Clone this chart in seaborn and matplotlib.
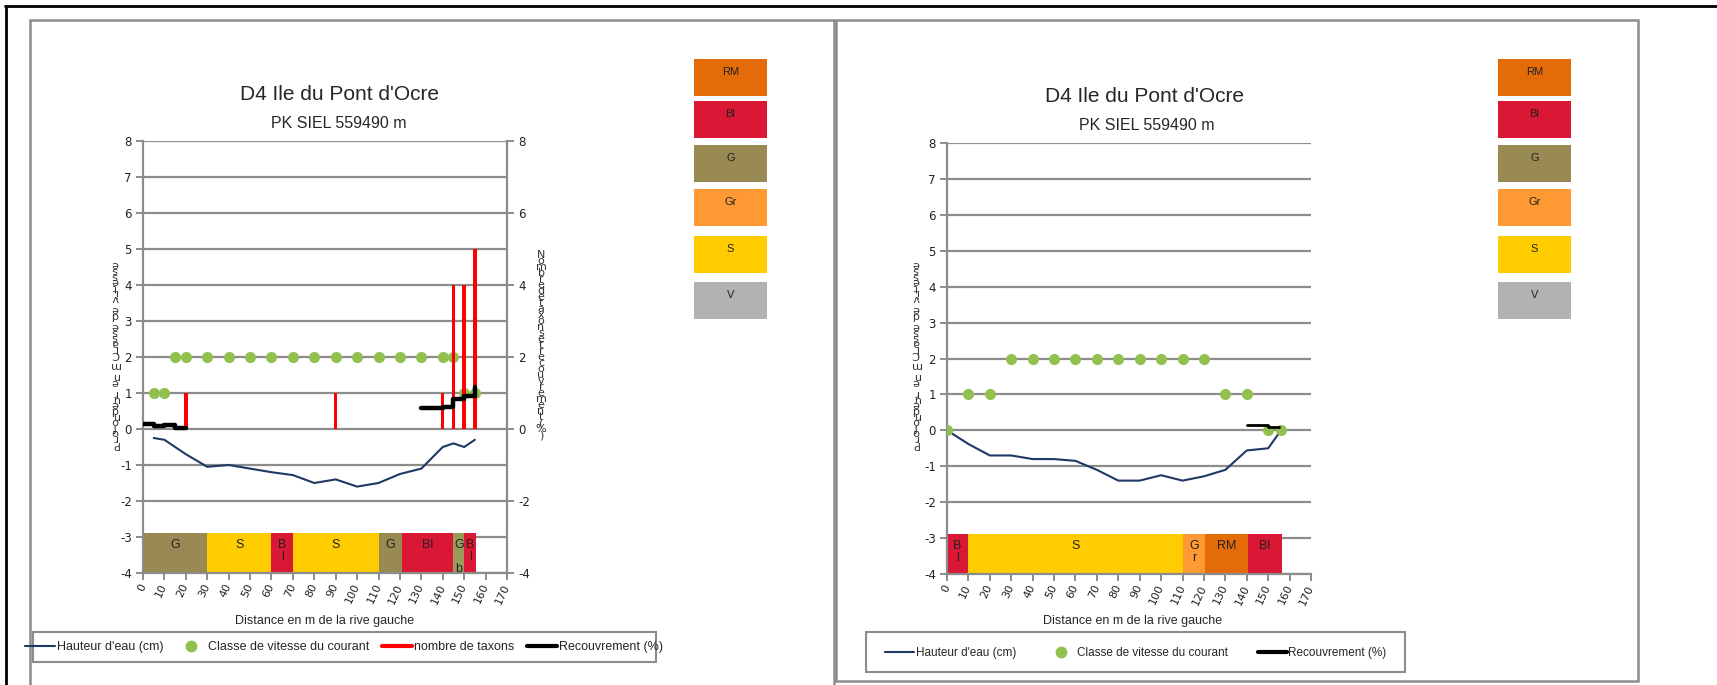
import numpy as np
import pandas as pd
import seaborn as sns
import matplotlib.pyplot as plt
from matplotlib.patches import Rectangle
from matplotlib.lines import Line2D

# --- données ---
titre = "D4 Ile du Pont d'Ocre"
sous_titre = "PK SIEL 559490 m"
xlabel = "Distance en m de la rive gauche"
ylabel_g = "Profondeur en m Classe de vitesse"
ylabel_d2 = "Nombre de taxons et recouvrement (%)"

# transect gauche
haut_x_g = [5, 10, 20, 30, 40, 50, 60, 70, 80, 90, 100, 110, 120, 130, 140, 145, 150, 155]
haut_y_g = [-0.25, -0.3, -0.7, -1.05, -1.0, -1.1, -1.2, -1.28, -1.5, -1.4, -1.6, -1.5, -1.25, -1.1, -0.5, -0.4, -0.5, -0.3]
vit_x_g = [5, 10, 15, 20, 30, 40, 50, 60, 70, 80, 90, 100, 110, 120, 130, 140, 145, 150, 155]
vit_y_g = [1, 1, 2, 2, 2, 2, 2, 2, 2, 2, 2, 2, 2, 2, 2, 2, 2, 1, 1]
taxons_x_g = [20, 90, 140, 145, 150, 155]
taxons_y_g = [1, 1, 1, 4, 4, 5]
recouv_x_g = [0, 5, 10, 15, 20, 130, 140, 145, 150, 155]
recouv_y_g = [0.15, 0.07, 0.1, 0.04, 0.04, 0.57, 0.6, 0.83, 0.93, 1.17]
recouv_seg_g = [1, 1, 1, 1, 1, 2, 2, 2, 2, 2]
subs_debut_g = [0, 30, 60, 70, 110, 121, 145, 150]
subs_fin_g = [30, 60, 70, 110, 121, 145, 150, 155.5]
subs_code_g = ['G', 'S', 'Bl', 'S', 'G', 'Bl', 'Gb', 'Bl']

# transect droit
haut_x_d = [0, 10, 20, 30, 40, 50, 60, 70, 80, 90, 100, 110, 120, 130, 140, 150, 156]
haut_y_d = [0, -0.38, -0.7, -0.7, -0.8, -0.8, -0.85, -1.1, -1.4, -1.4, -1.25, -1.4, -1.28, -1.1, -0.56, -0.5, 0]
vit_x_d = [0, 10, 20, 30, 40, 50, 60, 70, 80, 90, 100, 110, 120, 130, 140, 150, 156]
vit_y_d = [0, 1, 1, 2, 2, 2, 2, 2, 2, 2, 2, 2, 2, 1, 1, 0, 0]
recouv_x_d = [140, 150, 155]
recouv_y_d = [0.16, 0.09, 0.09]
subs_debut_d = [-0.5, 10, 110, 120.5, 140.5]
subs_fin_d = [10, 110, 120.5, 140.5, 156.3]
subs_code_d = ['Bl', 'S', 'Gr', 'RM', 'Bl']

legende_codes = ['RM', 'Bl', 'G', 'Gr', 'S', 'V']
couleurs = {'RM': '#E36C09', 'Bl': '#DA1734', 'G': '#998A53', 'Gr': '#FF9933',
            'S': '#FFCC00', 'V': '#B2B2B2', 'Gb': '#9C9A58'}

bleu = '#1F3864'
vert = '#92C04E'
gris = '#8C8C8C'
narrow = ['Liberation Sans Narrow', 'Liberation Sans', 'DejaVu Sans']

sns.set_theme(style='white')
plt.rcParams['font.family'] = ['DejaVu Sans']
plt.rcParams['axes.unicode_minus'] = False

W, H = 1717, 685
fig = plt.figure(figsize=(W / 100, H / 100), dpi=100)


def fx(px):
    return px / W


def fy(py):
    return 1 - py / H


def axes_px(x0, y0, x1, y1):
    return fig.add_axes([fx(x0), fy(y1), (x1 - x0) / W, (y1 - y0) / H])


def style_axes(ax):
    ax.set_xlim(0, 170)
    ax.set_ylim(-4, 8)
    ax.set_xticks(range(0, 171, 10))
    ax.set_yticks(range(-4, 9))
    ax.set_axisbelow(True)
    ax.grid(axis='y', color=gris, lw=1.6)
    ax.grid(axis='x', visible=False)
    for s in ['top', 'right']:
        ax.spines[s].set_visible(False)
    for s in ['left', 'bottom']:
        ax.spines[s].set_color(gris)
        ax.spines[s].set_linewidth(1.6)
    ax.tick_params(axis='both', direction='out', length=5, width=1.4, color=gris,
                   labelsize=8.5, labelcolor='#222222', pad=3,
                   left=True, bottom=True)
    for lab in ax.get_xticklabels():
        lab.set_rotation(65)
        lab.set_ha('right')
        lab.set_va('center')
        lab.set_rotation_mode('anchor')
        lab.set_fontsize(8)
    ax.set_xlabel('')
    ax.set_ylabel('')


def substrats(ax, debut, fin, codes):
    for d, f, c in zip(debut, fin, codes):
        ax.bar(d, 1.1, width=f - d, bottom=-4, align='edge',
               color=couleurs[c], lw=0, zorder=1)
        lab = c if f - d > 12 else '\n'.join(c if c != 'Gb' else 'G b')
        ax.text((d + f) / 2, -3.05, lab, ha='center', va='top', fontsize=9,
                family=narrow, linespacing=1.0, color='#222222', zorder=6)


def legende_substrats(x0):
    tops = [59, 101, 145, 189, 236, 282]
    for code, t in zip(legende_codes, tops):
        fig.add_artist(Rectangle((fx(x0), fy(t + 37)), 73 / W, 37 / H,
                                 transform=fig.transFigure, color=couleurs[code], lw=0))
        fig.text(fx(x0 + 36.5), fy(t + 13), code, ha='center', va='center',
                 fontsize=8, family=narrow, color='#222222')


def cadre(x0, y0, x1, y1, lw=1.8, color='#8C8C8C'):
    fig.add_artist(Rectangle((fx(x0), fy(y1)), (x1 - x0) / W, (y1 - y0) / H,
                             transform=fig.transFigure, fill=False,
                             edgecolor=color, lw=lw))


def texte_vertical(x, y, txt, rot, fs, ls):
    # texte "empilé" façon Excel : une lettre par ligne
    fig.text(fx(x), fy(y), '\n'.join(list(txt)), rotation=rot, ha='center',
             va='center', fontsize=fs, linespacing=ls, color='#333333',
             family=['DejaVu Sans'])


# cadres
fig.add_artist(Line2D([fx(5), 1], [fy(6), fy(6)], color='black', lw=2))
fig.add_artist(Line2D([fx(6), fx(6)], [fy(6), 0], color='black', lw=2))
cadre(30, 20, 834, 720)
cadre(836, 20, 1638, 681)

# ---------- graphique gauche ----------
ax1 = axes_px(143, 141, 507, 573)
style_axes(ax1)
substrats(ax1, subs_debut_g, subs_fin_g, subs_code_g)
sns.lineplot(x=haut_x_g, y=haut_y_g, ax=ax1, color=bleu, lw=1.5, sort=False, zorder=3)
sns.scatterplot(x=vit_x_g, y=vit_y_g, ax=ax1, color=vert, s=64, lw=0, zorder=4)
ax1.bar(taxons_x_g, taxons_y_g, width=1.6, color='#FF0000', lw=0, zorder=5)
df_rec = pd.DataFrame({'x': recouv_x_g, 'y': recouv_y_g, 'seg': recouv_seg_g})
sns.lineplot(data=df_rec, x='x', y='y', units='seg', estimator=None, ax=ax1,
             color='black', lw=3.2, drawstyle='steps-post', zorder=6)
style_axes(ax1)

ax1b = ax1.twinx()
ax1b.set_ylim(-4, 8)
ax1b.set_yticks(range(-4, 9, 2))
for s in ['top', 'left', 'bottom']:
    ax1b.spines[s].set_visible(False)
ax1b.spines['right'].set_color(gris)
ax1b.spines['right'].set_linewidth(1.6)
ax1b.tick_params(axis='y', direction='out', length=5, width=1.4, color=gris,
                 labelsize=8.5, labelcolor='#222222', pad=3, right=True)
ax1b.grid(False)

fig.text(fx(339), fy(95), titre, ha='center', va='center', fontsize=15, family=narrow)
fig.text(fx(339), fy(124), sous_titre, ha='center', va='center', fontsize=11.5, family=narrow)
fig.text(fx(325), fy(621), xlabel, ha='center', va='center', fontsize=9, family=narrow)
texte_vertical(115, 354, ylabel_g, 180, 8, 0.45)
texte_vertical(541, 345, ylabel_d2.replace(' ', ''), 0, 8, 0.5)
legende_substrats(694)

cadre(33, 632, 656, 662, lw=1.5)
h_bleu = Line2D([0], [0], color=bleu, lw=1.5)
h_vert = Line2D([0], [0], marker='o', ls='', color=vert, markersize=7.5)
h_rouge = Line2D([0], [0], color='#FF0000', lw=3)
h_noir = Line2D([0], [0], color='black', lw=3)
fig.legend([h_bleu, h_vert, h_rouge, h_noir],
           ["Hauteur d'eau (cm)", 'Classe de vitesse du courant', 'nombre de taxons', 'Recouvrement (%)'],
           loc='center', bbox_to_anchor=(fx(344), fy(647)), ncol=4, frameon=False,
           handlelength=2.4, handletextpad=0.15, columnspacing=1.0,
           prop={'family': narrow, 'size': 9})

# ---------- graphique droit ----------
ax2 = axes_px(947, 143, 1311, 574)
style_axes(ax2)
substrats(ax2, subs_debut_d, subs_fin_d, subs_code_d)
sns.lineplot(x=haut_x_d, y=haut_y_d, ax=ax2, color=bleu, lw=1.5, sort=False, zorder=3)
sns.scatterplot(x=vit_x_d, y=vit_y_d, ax=ax2, color=vert, s=64, lw=0, zorder=4)
sns.lineplot(x=recouv_x_d, y=recouv_y_d, ax=ax2, color='black', lw=2,
             drawstyle='steps-post', zorder=6)
style_axes(ax2)

fig.text(fx(1144), fy(96), titre, ha='center', va='center', fontsize=15, family=narrow)
fig.text(fx(1147), fy(126), sous_titre, ha='center', va='center', fontsize=11.5, family=narrow)
fig.text(fx(1133), fy(621), xlabel, ha='center', va='center', fontsize=9, family=narrow)
texte_vertical(916, 354, ylabel_g, 180, 8, 0.45)
legende_substrats(1498)

cadre(866, 632, 1405, 672, lw=1.5)
fig.legend([h_bleu, h_vert, h_noir],
           ["Hauteur d'eau (cm)", 'Classe de vitesse du courant', 'Recouvrement (%)'],
           loc='center', bbox_to_anchor=(fx(1136), fy(653)), ncol=3, frameon=False,
           handlelength=2.4, handletextpad=0.15, columnspacing=2.6,
           prop={'family': narrow, 'size': 8.5})

fig.savefig('out.png', dpi=100)
